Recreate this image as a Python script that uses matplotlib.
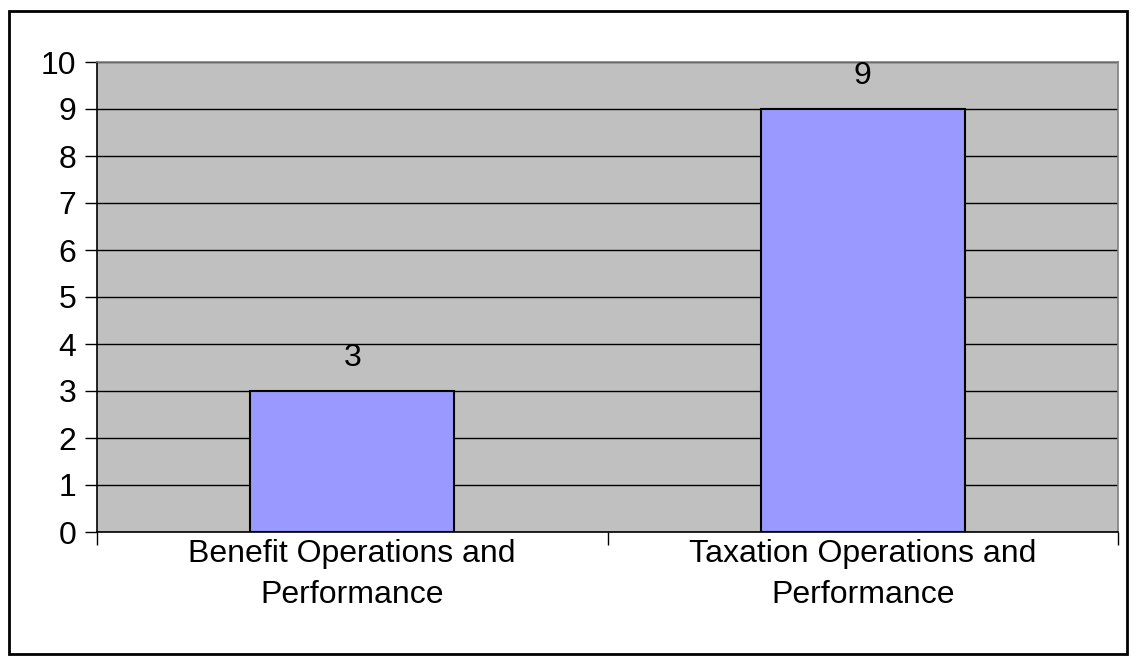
import matplotlib
matplotlib.use("Agg")
import matplotlib.pyplot as plt
from matplotlib.patches import Rectangle

categories = ["Benefit Operations and\nPerformance", "Taxation Operations and\nPerformance"]
values = [3, 9]
y_ticks = list(range(0, 11))

plt.rcParams['font.family'] = ['Liberation Sans', 'DejaVu Sans']

W, H = 1136, 663
fig = plt.figure(figsize=(W / 100, H / 100), dpi=100)
fig.patch.set_facecolor('white')

# figure border
fig.patches.append(Rectangle((9 / W, 1 - 654 / H), (1127 - 9) / W, (654 - 11) / H,
                             transform=fig.transFigure, fill=False,
                             edgecolor='black', linewidth=2, zorder=10))

ax = fig.add_axes([97 / W, 1 - 532 / H, (1118 - 97) / W, (532 - 62) / H])
ax.set_facecolor('#C0C0C0')

x = list(range(len(categories)))
bars = ax.bar(x, values, width=0.4, color='#9999FF', edgecolor='black', linewidth=1.5, zorder=3)
for xi, v in zip(x, values):
    ax.annotate(str(v), (xi, v), xytext=(0, 13), textcoords='offset points',
                ha='center', va='bottom', fontsize=23)

ax.set_xlim(-0.5, len(categories) - 0.5)
ax.set_ylim(0, 10)
ax.set_yticks(y_ticks)
ax.set_yticklabels([str(t) for t in y_ticks], fontsize=23)
ax.yaxis.grid(True, color='black', linewidth=1, zorder=1)
ax.set_axisbelow(True)

ax.set_xticks([-0.5, 0.5, 1.5])
ax.set_xticklabels([])
ax.set_xticks(x, minor=True)
ax.set_xticklabels(categories, minor=True, fontsize=23, linespacing=1.5)
ax.tick_params(axis='x', which='minor', length=0, pad=5)
ax.tick_params(axis='x', which='major', length=9, width=1, color='black')
ax.tick_params(axis='y', length=9, width=1, color='black', pad=6)

for s in ['left', 'bottom']:
    ax.spines[s].set_color('black')
    ax.spines[s].set_linewidth(1.2)
for s in ['top', 'right']:
    ax.spines[s].set_color('#808080')
    ax.spines[s].set_linewidth(1.2)

fig.savefig('out.png', dpi=100, facecolor='white')
